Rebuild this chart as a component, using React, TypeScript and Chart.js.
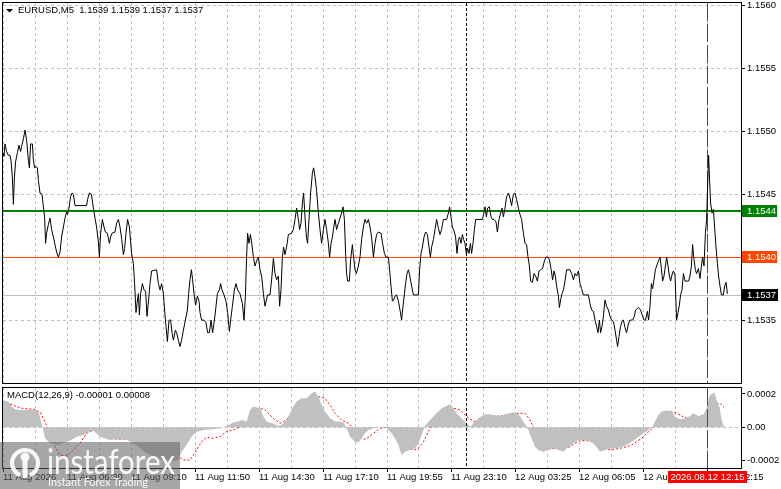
import { useEffect, useRef } from 'react';
import { Chart, registerables } from 'chart.js';

// Register Chart.js components
Chart.register(...registerables);

// EURUSD M5 closes, as [bar index, close]
const priceCloses: [number, number][] = [
  [0, 1.15483], [0.5, 1.1548], [1, 1.1549], [1.8, 1.15484], [2.7, 1.15481], [3.5, 1.15481], [4, 1.15477], [4.7, 1.15463],
  [5.2, 1.15442], [5.7, 1.15463], [6.3, 1.15476], [7.2, 1.15483], [8, 1.15489], [8.8, 1.15484], [9.3, 1.15488], [10.2, 1.15494],
  [11, 1.15501], [11.8, 1.15493], [12.7, 1.15477], [13.2, 1.15471], [13.8, 1.1549], [14.7, 1.1549], [15.2, 1.15477], [15.8, 1.15471],
  [16.5, 1.15472], [17.2, 1.15471], [17.7, 1.15461], [18.5, 1.15451], [19.5, 1.1545], [20.2, 1.1544], [20.8, 1.15432], [21.3, 1.15411],
  [21.8, 1.15419], [22.7, 1.15426], [23.5, 1.15431], [24.3, 1.15422], [25.2, 1.15416], [26, 1.1541], [26.8, 1.15404], [27.7, 1.154],
  [28.5, 1.15404], [29.3, 1.15416], [30.2, 1.15424], [31, 1.15431], [31.8, 1.15436], [32.3, 1.15434], [33, 1.15439], [33.8, 1.15448],
  [34.5, 1.15451], [35.2, 1.1545], [36, 1.15441], [41.8, 1.15441], [42.3, 1.15446], [43.2, 1.15451], [44.2, 1.1545], [45.2, 1.15439],
  [46, 1.15431], [46.8, 1.15424], [47.7, 1.15412], [48.2, 1.154], [48.8, 1.15419], [49.7, 1.1543], [50.5, 1.15424], [51.2, 1.1542],
  [52.2, 1.15419], [53.2, 1.15411], [53.8, 1.15416], [54.5, 1.15419], [56, 1.1542], [56.8, 1.15427], [57.7, 1.1543], [58.5, 1.15424],
  [59.3, 1.15415], [60.2, 1.15402], [60.8, 1.15407], [61.5, 1.15419], [62.3, 1.1543], [63.2, 1.15424], [64.3, 1.15403], [65.2, 1.15395],
  [65.8, 1.15379], [66.5, 1.15356], [67, 1.15363], [67.7, 1.15371], [68.2, 1.15354], [68.8, 1.15371], [69.7, 1.15379], [70.5, 1.15374],
  [71.3, 1.15373], [72, 1.15353], [72.8, 1.15366], [73.5, 1.15379], [74.3, 1.15389], [76.8, 1.1539], [77.7, 1.15379], [78.5, 1.15374],
  [79.3, 1.15379], [80.2, 1.15371], [80.8, 1.15358], [81.5, 1.15345], [82.2, 1.15333], [83, 1.1535], [83.8, 1.1535], [84.5, 1.1534],
  [85.2, 1.15334], [86.2, 1.15342], [86.8, 1.1534], [87.7, 1.15334], [88.5, 1.15329], [89.3, 1.15334], [90.2, 1.15342], [91.2, 1.1535],
  [92.2, 1.15358], [92.8, 1.15371], [93.5, 1.15382], [94.2, 1.1539], [94.8, 1.15382], [95.5, 1.15371], [96.3, 1.15362], [97.2, 1.15369],
  [98, 1.15365], [98.5, 1.15356], [99.3, 1.1535], [100.5, 1.1535], [101.5, 1.15348], [102.3, 1.1534], [103.2, 1.1534], [104, 1.1535],
  [104.8, 1.1534], [105.7, 1.1535], [106.5, 1.15361], [107.2, 1.15371], [108.2, 1.15374], [108.8, 1.15379], [109.5, 1.15374], [110.5, 1.1537],
  [111.5, 1.15365], [112.3, 1.15356], [113.2, 1.15341], [113.8, 1.1535], [114.7, 1.15361], [115.7, 1.15374], [116.5, 1.15379], [117.3, 1.15374],
  [118.5, 1.15371], [119.7, 1.15363], [120.5, 1.1535], [121.2, 1.15369], [121.8, 1.154], [122.3, 1.15419], [123, 1.15411], [123.7, 1.15418],
  [124.3, 1.15412], [125.2, 1.154], [126, 1.15393], [126.8, 1.15397], [127.7, 1.154], [128.5, 1.1539], [129.3, 1.15385], [130.2, 1.15371],
  [131, 1.15361], [131.7, 1.15366], [132.3, 1.1537], [133.5, 1.1537], [134.3, 1.15382], [135.2, 1.15399], [136, 1.15387], [136.8, 1.15382],
  [137.7, 1.15385], [138.3, 1.15361], [139, 1.15374], [139.7, 1.154], [140.3, 1.15408], [141, 1.15402], [141.8, 1.15408], [142.7, 1.15418],
  [144.3, 1.15419], [145.2, 1.15422], [146, 1.1543], [146.8, 1.15439], [147.7, 1.1543], [148.3, 1.15422], [149, 1.15427], [149.7, 1.15443],
  [150.3, 1.15451], [151, 1.15432], [151.7, 1.15416], [152.3, 1.15411], [153, 1.1543], [153.8, 1.15451], [154.7, 1.15467], [155.3, 1.15471],
  [156, 1.15464], [156.8, 1.15453], [157.7, 1.15435], [158.5, 1.15422], [159.3, 1.15411], [160.2, 1.15422], [161, 1.1543], [161.8, 1.15422],
  [162.7, 1.15411], [163.3, 1.154], [164, 1.15411], [164.7, 1.15416], [165.3, 1.15423], [166, 1.1543], [166.8, 1.15422], [167.7, 1.15427],
  [168.5, 1.15431], [169.3, 1.15435], [170, 1.1544], [170.7, 1.1543], [171.3, 1.15403], [171.8, 1.15387], [172.3, 1.15381], [173.2, 1.15381],
  [173.8, 1.15398], [174.7, 1.1541], [175.3, 1.154], [176, 1.1539], [176.7, 1.15387], [177.7, 1.15393], [178.5, 1.154], [179.3, 1.15414],
  [180.2, 1.15424], [181, 1.1543], [181.8, 1.15427], [182.7, 1.1543], [183.5, 1.15424], [184.3, 1.15416], [185.2, 1.154], [186, 1.15411],
  [186.8, 1.15418], [187.7, 1.1542], [189, 1.15419], [189.8, 1.15411], [190.7, 1.15403], [191.5, 1.154], [192.7, 1.154], [193.3, 1.1539],
  [194, 1.15377], [194.7, 1.15365], [195.3, 1.15366], [196, 1.15369], [196.8, 1.1537], [197.7, 1.15365], [198.5, 1.15358], [199.3, 1.1535],
  [200, 1.15361], [200.7, 1.15371], [201.3, 1.15379], [202, 1.15387], [202.7, 1.1539], [203.3, 1.15386], [204.3, 1.15377], [205.2, 1.1537],
  [207.7, 1.1537], [208.3, 1.1539], [209, 1.15403], [209.7, 1.15408], [210.5, 1.15416], [211.3, 1.1542], [212.2, 1.15418], [213, 1.15408],
  [213.7, 1.154], [214.3, 1.15408], [215.2, 1.15414], [216, 1.15422], [216.8, 1.1543], [217.7, 1.15423], [218.5, 1.15418], [219.3, 1.15422],
  [220.2, 1.1543], [221.8, 1.1543], [222.7, 1.15435], [223.3, 1.1544], [224, 1.15432], [224.7, 1.15424], [225.7, 1.1542], [226.3, 1.15416],
  [227, 1.15403], [227.7, 1.15414], [228.3, 1.15416], [229, 1.15411], [229.7, 1.15418], [230.3, 1.15414], [231, 1.15411], [231.7, 1.15402],
  [232.3, 1.15407], [233, 1.15403], [233.7, 1.15411], [234.3, 1.15403], [235, 1.15411], [235.7, 1.15422], [236.3, 1.1543], [239.7, 1.1543],
  [240.3, 1.15434], [241, 1.1544], [241.7, 1.15432], [242.3, 1.15439], [243.2, 1.1544], [244, 1.15432], [244.7, 1.1543], [245.5, 1.1543],
  [246.5, 1.15428], [247.2, 1.1542], [248, 1.1543], [248.8, 1.15435], [249.5, 1.15439], [250.2, 1.15432], [251, 1.15439], [251.8, 1.15448],
  [252.7, 1.15451], [253.5, 1.15447], [254.3, 1.15441], [255.2, 1.1545], [256, 1.15451], [256.8, 1.15446], [257.7, 1.15439], [258.5, 1.15434],
  [259.3, 1.1543], [260.2, 1.15419], [261, 1.15411], [261.8, 1.1541], [262.5, 1.154], [263.2, 1.15393], [263.8, 1.15381], [264.7, 1.1538],
  [265.5, 1.15387], [266.3, 1.15385], [267.2, 1.15381], [268, 1.15389], [268.8, 1.1539], [269.8, 1.15391], [270.7, 1.15397], [271.5, 1.154],
  [272.5, 1.154], [273.2, 1.15398], [274, 1.15391], [274.8, 1.15382], [275.5, 1.15389], [276.2, 1.15385], [276.8, 1.15377], [277.7, 1.15369],
  [278.2, 1.1536], [278.8, 1.15366], [279.5, 1.15371], [280.2, 1.15374], [281, 1.15381], [281.8, 1.1539], [283.5, 1.1539], [284.3, 1.15387],
  [285.2, 1.15382], [286, 1.15387], [286.8, 1.15385], [287.7, 1.15389], [288.5, 1.15379], [289.3, 1.15375], [290.2, 1.1537], [292.7, 1.1537],
  [293.5, 1.15363], [294.3, 1.15358], [295.2, 1.15357], [296, 1.1535], [296.8, 1.15345], [297.5, 1.1534], [298.2, 1.1535], [298.8, 1.1534],
  [299.5, 1.15345], [300.2, 1.15353], [301, 1.15366], [301.8, 1.15361], [302.7, 1.15358], [303.5, 1.15353], [304.3, 1.1535], [305.2, 1.15349],
  [306, 1.15342], [306.8, 1.15334], [307.3, 1.15329], [308, 1.15337], [308.8, 1.15345], [309.5, 1.15349], [310.2, 1.1535], [311, 1.15344],
  [311.8, 1.1534], [312.7, 1.15347], [313.5, 1.1535], [314.8, 1.1535], [315.7, 1.15353], [316.3, 1.15358], [317.7, 1.1536], [318.8, 1.15358],
  [319.8, 1.15353], [320.5, 1.1535], [321.3, 1.1535], [322.2, 1.15357], [322.8, 1.1535], [323.5, 1.15361], [324.2, 1.15379], [324.8, 1.15375],
  [325.5, 1.15382], [326.2, 1.1539], [326.8, 1.15393], [327.7, 1.15397], [328.5, 1.154], [329.2, 1.15391], [329.8, 1.15381], [330.5, 1.15385],
  [331.2, 1.15393], [331.8, 1.154], [332.5, 1.15393], [333.2, 1.15385], [333.8, 1.15381], [334.5, 1.15386], [335.2, 1.15389], [336, 1.15386],
  [336.8, 1.1535], [337.5, 1.15356], [338.2, 1.15362], [338.8, 1.1537], [339.5, 1.15374], [340.2, 1.15387], [341, 1.15381], [342.8, 1.15381],
  [343.5, 1.15385], [344.2, 1.15393], [344.8, 1.1541], [345.5, 1.15398], [346.2, 1.1539], [346.8, 1.15387], [347.7, 1.15391], [348.5, 1.15383],
  [349.2, 1.15393], [349.8, 1.154], [350.5, 1.15393], [351.2, 1.15419], [351.8, 1.1543], [352.3, 1.15456], [352.8, 1.15481], [353.3, 1.15461],
  [353.8, 1.15443], [354.5, 1.15435], [355.2, 1.15438], [355.8, 1.15424], [356.5, 1.15408], [357.2, 1.15395], [357.8, 1.15385], [358.5, 1.15377],
  [359.2, 1.1537], [360.2, 1.1537], [360.8, 1.15377], [361.5, 1.1538], [362.2, 1.15371],
];

// MACD(12,26,9) main (grey histogram), [bar index, value in 0.00001]
const macdMain: [number, number][] = [
  [0, 16], [2.7, 15.4], [4.3, 12.4], [6, 10.8], [8.5, 10.4], [12.7, 10.4], [16.8, 10.4], [17.7, 9.4], [18.8, 4.4], [19.8, 0.4],
  [21, -6.6], [23.5, -9.6], [27.7, -10.6], [31.8, -8.6], [34.3, -7.6], [36.8, -5.6], [40.2, -4.6], [42.7, -2.6], [45.2, -2], [48.5, -5.6],
  [53.5, -7.6], [56.8, -7.2], [61.8, -7.6], [65.2, -9.6], [68.5, -12.6], [71.8, -15.6], [75.2, -17.6], [78.5, -19.2], [81.8, -19.6], [85.2, -20.2],
  [87.7, -19.6], [89.3, -14.6], [91.8, -10.6], [94.3, -5.6], [96.8, -2.6], [100.2, -1.6], [105.2, -1.2], [108.5, -0.6], [111, 0.4], [115.2, 2.8],
  [117.7, 3.4], [119.3, 4.4], [121.8, 3.4], [123.5, 10.4], [125.2, 12.4], [128.5, 11.4], [130.2, 6.4], [131.8, 3.4], [134.3, 2.4], [136.8, 1.4],
  [138.5, 0.8], [140.2, 2.4], [141.8, 4.4], [143.5, 8.4], [145.2, 12.4], [146.8, 15.4], [149.3, 17.4], [151.8, 17.4], [154.3, 20.4], [156, 21.4],
  [157.7, 18.4], [159.3, 13.4], [161, 9.4], [163.5, 5.4], [166, 3.4], [168.5, 3.4], [170.2, 2.8], [171.5, 0.4], [172.2, -1.6], [173.5, -5.6],
  [176, -8.6], [177.7, -9.2], [179.3, -6.6], [181, -3.6], [182.7, -1.6], [185.2, -0.6], [188.5, 0], [191.8, -0.6], [194.3, -3.6], [196, -6.6],
  [197.7, -10.6], [199.3, -16.6], [201, -14.6], [203.5, -13.6], [206, -12.6], [207.7, -9.6], [209.3, -4.6], [211, 0.8], [214.3, 5.4], [216.8, 8.4],
  [219.3, 11.4], [221.8, 12.8], [223.5, 14], [225.2, 11.4], [226.8, 8.4], [229.3, 5.4], [231.8, 2.4], [233.8, 0.4], [235.2, 2.4], [237.7, 5.4],
  [240.2, 7.4], [242.7, 8], [245.2, 7.4], [247.7, 6.8], [250.2, 7.4], [252.7, 8.4], [255.2, 9], [258.5, 6.8], [260.2, 3.4], [261.8, 0.4],
  [262.7, -1.6], [264.3, -6.6], [266, -11.6], [267.7, -13.6], [270.2, -14.6], [272.7, -13.6], [275.2, -12.6], [277.7, -13.6], [280.2, -14.6], [282.7, -11.6],
  [285.2, -9.6], [287.7, -7.6], [290.2, -7.6], [293.5, -8.2], [296, -10.6], [298.5, -14.6], [301, -13.6], [303.5, -12.6], [306.8, -12.6], [309.3, -11.6],
  [311.8, -10.6], [314.3, -8.6], [316.8, -6.6], [320.2, -3.6], [322.7, -1.6], [324.8, 0.4], [326, 3.4], [327.7, 7.4], [329.3, 9.4], [331.8, 10],
  [334.3, 9.4], [336, 6.4], [338.5, 4.8], [341, 5.4], [343.5, 6.8], [345.2, 8.4], [347.7, 6.8], [350.2, 7.4], [351.8, 11.4], [353.2, 18.4],
  [354.3, 20], [355.7, 20.8], [356.8, 16.4], [358.2, 12.4], [359.3, 4.4], [360.5, 0.4], [361.8, -1.2],
];

// MACD signal line (red dotted), [bar index, value in 0.00001]
const macdSignal: [number, number][] = [
  [0.2, 11.4], [3.5, 14], [6.8, 12.4], [10.2, 11.2], [15.2, 10.8], [18.5, 9.2], [21, 3.4], [23.5, -4.6], [26, -11.6], [28.5, -16.6],
  [31.8, -17.2], [34.3, -14.6], [38.5, -9.6], [41.8, -3.6], [46, -1.2], [50.2, -3.6], [53.5, -6.6], [58.5, -7.2], [65.2, -6.6], [68.5, -9.6],
  [71.8, -14.6], [75.2, -17.2], [80.2, -14.2], [83.5, -13.6], [86.8, -16.6], [90.2, -19.6], [93.5, -19.6], [96.8, -13.6], [99.3, -8.6], [101.8, -6],
  [105.2, -6.6], [108.5, -5.6], [111.8, -2.6], [115.2, -1.6], [118.5, 0.4], [121.8, 2], [125.2, 6.4], [128.5, 11.4], [131, 10.4], [133.5, 7.4],
  [136, 4.4], [138.5, 2.4], [141, 4], [144.3, 7.4], [147.7, 11.4], [151, 14.4], [154.3, 17.4], [157.7, 18.4], [161, 17.4], [163.5, 13.4],
  [166, 8.4], [169.3, 4.4], [172.7, 2.4], [176, -1.6], [178.5, -5.6], [180.5, -7.2], [182.7, -6], [185.2, -3.6], [188.5, -0.6], [191.8, 0],
  [195.2, -1.6], [197.7, -4.6], [200.2, -8.6], [202.7, -12.6], [205.2, -13.6], [207.7, -12.6], [210.2, -8.6], [212.7, -2.6], [215.2, 2.4], [218.5, 7.4],
  [221.8, 10.4], [225.2, 11.4], [228.5, 10.4], [231, 7.4], [233.5, 4.8], [236, 3.4], [238.5, 4.4], [241.8, 5.4], [245.2, 6.4], [248.5, 6.8],
  [251.8, 7.4], [255.2, 8], [258.5, 8.4], [261, 8.4], [263.5, 4.4], [266, -1.6], [268.5, -8.6], [271, -12.2], [273.5, -13], [276.8, -12.6],
  [280.2, -12.6], [283.5, -11.6], [286, -9.6], [288.5, -8], [291.8, -8], [294.3, -8.6], [296.8, -10.6], [299.3, -12.6], [301.8, -13.2], [305.2, -13.2],
  [308.5, -12.6], [311.8, -11.6], [314.3, -10.6], [316.8, -8.6], [319.3, -6.6], [321.8, -3.6], [324.3, -1.2], [326.8, 2.4], [329.3, 6.4], [331.8, 8.8],
  [334.3, 9.4], [336.8, 8.4], [339.3, 6.8], [341.8, 5.4], [345.2, 5.8], [348.5, 6.4], [351.8, 8.8], [354.3, 11.4], [356.8, 14], [358.5, 14.4],
  [360.5, 12],
];

// time axis: grid every 16 bars, labels every 32
const gridBars = [0, 16, 32, 48, 64, 80, 96, 112, 128, 144, 160, 176, 192, 208, 224, 240, 256, 272, 288, 304, 320, 336, 352];
const labelBars = [0, 32, 64, 96, 128, 160, 192, 224, 256, 288, 320, 352];
const timeLabels = [
  '11 Aug 2026', '11 Aug 06:30', '11 Aug 09:10', '11 Aug 11:50', '11 Aug 14:30', '11 Aug 17:10',
  '11 Aug 19:55', '11 Aug 23:10', '12 Aug 03:25', '12 Aug 06:05', '12 Aug 08:45', '12 Aug 12:15',
];
const priceTicks = [1.1535, 1.154, 1.1545, 1.155, 1.1555, 1.156];
const macdTicks = [-0.0002, 0, 0.0002];

// horizontal levels and vertical markers
const resistanceLevel = 1.15437;
const supportLevel = 1.154;
const bidLevel = 1.1537;
const sessionBar = 231.5;
const cursorBar = 352;
const cursorTime = '2026.08.12 12:15';
const symbolTitle = 'EURUSD,M5  1.1539 1.1539 1.1537 1.1537';
const macdTitle = 'MACD(12,26,9) -0.00001 0.00008';

const FONT = '"Liberation Sans", Arial, sans-serif';
const FONT_SIZE = 9.5;
const GRID = '#C0C0C0';

const drawFrame = (chart: Chart) => {
  const { ctx, chartArea: a } = chart;
  const x0 = Math.round(a.left) - 0.5;
  const y0 = Math.round(a.top) - 0.5;
  const x1 = Math.round(a.right) + 0.5;
  const y1 = Math.round(a.bottom) + 0.5;
  ctx.save();
  ctx.strokeStyle = '#000';
  ctx.lineWidth = 1;
  ctx.strokeRect(x0, y0, x1 - x0, y1 - y0);
  ctx.restore();
};

const vLine = (ctx: CanvasRenderingContext2D, x: number, top: number, bottom: number, color: string, dash: number[]) => {
  ctx.save();
  ctx.strokeStyle = color;
  ctx.lineWidth = 1;
  ctx.setLineDash(dash);
  ctx.beginPath();
  ctx.moveTo(Math.round(x) + 0.5, top);
  ctx.lineTo(Math.round(x) + 0.5, bottom);
  ctx.stroke();
  ctx.restore();
};

const hLine = (ctx: CanvasRenderingContext2D, y: number, left: number, right: number, color: string, width: number) => {
  const yy = width % 2 ? Math.round(y) + 0.5 : Math.round(y);
  ctx.save();
  ctx.strokeStyle = color;
  ctx.lineWidth = width;
  ctx.beginPath();
  ctx.moveTo(left, yy);
  ctx.lineTo(right, yy);
  ctx.stroke();
  ctx.restore();
};

const tag = (ctx: CanvasRenderingContext2D, x: number, y: number, w: number, bg: string, text: string, align: CanvasTextAlign) => {
  const top = Math.round(y) - 6;
  ctx.save();
  ctx.fillStyle = bg;
  ctx.fillRect(x, top, w, 12);
  ctx.fillStyle = '#fff';
  ctx.font = `${FONT_SIZE}px ${FONT}`;
  ctx.textBaseline = 'middle';
  ctx.textAlign = align;
  ctx.fillText(text, align === 'center' ? x + w / 2 : x + 5, top + 6.5);
  ctx.restore();
};

const mainDecor = {
  id: 'mainDecor',
  beforeDatasetsDraw(chart: Chart) {
    const { ctx, chartArea: a, scales } = chart;
    const x = scales.x;
    const y = scales.y;
    hLine(ctx, y.getPixelForValue(bidLevel), a.left, a.right, GRID, 1);
    hLine(ctx, y.getPixelForValue(supportLevel), a.left, a.right, '#FF4500', 1);
    hLine(ctx, y.getPixelForValue(resistanceLevel), a.left, a.right, '#008000', 2);
    vLine(ctx, x.getPixelForValue(sessionBar), a.top, a.bottom, '#000', [3, 2]);
    vLine(ctx, x.getPixelForValue(cursorBar), a.top, a.bottom, '#FF0000', [18, 3]);
  },
  afterDraw(chart: Chart) {
    const { ctx, chartArea: a, scales } = chart;
    const y = scales.y;
    drawFrame(chart);
    ctx.save();
    ctx.fillStyle = '#000';
    ctx.beginPath();
    ctx.moveTo(6, 9);
    ctx.lineTo(13, 9);
    ctx.lineTo(9.5, 12.5);
    ctx.closePath();
    ctx.fill();
    ctx.font = `${FONT_SIZE}px ${FONT}`;
    ctx.textBaseline = 'middle';
    ctx.fillText(symbolTitle, 18, 10.5);
    ctx.restore();
    const x0 = Math.round(a.right) + 1;
    tag(ctx, x0, y.getPixelForValue(resistanceLevel), 35, '#008000', resistanceLevel.toFixed(4), 'left');
    tag(ctx, x0, y.getPixelForValue(supportLevel), 35, '#FF4500', supportLevel.toFixed(4), 'left');
    tag(ctx, x0, y.getPixelForValue(bidLevel), 36, '#000', bidLevel.toFixed(4), 'left');
  },
};

const macdDecor = {
  id: 'macdDecor',
  afterDatasetsDraw(chart: Chart) {
    const { ctx, chartArea: a, scales } = chart;
    const x = scales.x;
    vLine(ctx, x.getPixelForValue(sessionBar), a.top, a.bottom, '#000', [3, 2]);
    vLine(ctx, x.getPixelForValue(cursorBar), a.top, a.bottom + 3, '#FF0000', [18, 3]);
  },
  afterDraw(chart: Chart) {
    const { ctx, scales } = chart;
    drawFrame(chart);
    ctx.save();
    ctx.fillStyle = '#000';
    ctx.font = `${FONT_SIZE}px ${FONT}`;
    ctx.textBaseline = 'middle';
    ctx.fillText(macdTitle, 7, 9.5);
    ctx.restore();

    const cx = scales.x.getPixelForValue(cursorBar);
    tag(ctx, Math.round(cx) - 39, 91, 79, '#FF0000', cursorTime, 'center');

    // instaforex watermark
    ctx.save();
    ctx.fillStyle = 'rgba(95,95,95,0.55)';
    ctx.fillRect(0, 56, 180, 47);
    ctx.fillStyle = 'rgba(255,255,255,0.92)';
    ctx.strokeStyle = 'rgba(255,255,255,0.92)';
    ctx.lineWidth = 4;
    ctx.beginPath();
    ctx.arc(25, 77, 13, 0.62 * Math.PI, 2.38 * Math.PI);
    ctx.stroke();
    ctx.beginPath();
    ctx.arc(25, 71, 4.5, 0, Math.PI * 2);
    ctx.fill();
    ctx.fillRect(22.5, 75, 5, 17);
    ctx.font = '34px Lato, "Open Sans", sans-serif';
    ctx.textBaseline = 'alphabetic';
    ctx.fillText('instaforex', 47, 88, 128);
    ctx.font = '12px Lato, "Open Sans", sans-serif';
    ctx.fillText('Instant Forex Trading', 48, 100, 100);
    ctx.restore();
  },
};

const tickFont = { family: FONT, size: FONT_SIZE };

const App = () => {
  const mainRef = useRef<HTMLCanvasElement>(null);
  const macdRef = useRef<HTMLCanvasElement>(null);

  useEffect(() => {
    document.body.style.margin = '0';
    if (!mainRef.current || !macdRef.current) return;

    const mainChart = new Chart(mainRef.current, {
      type: 'line',
      data: {
        datasets: [
          {
            data: priceCloses.map(([bar, close]) => ({ x: bar, y: close })),
            borderColor: '#000',
            borderWidth: 1,
            pointRadius: 0,
            tension: 0,
          },
        ],
      },
      options: {
        animation: false,
        responsive: false,
        layout: { padding: { left: 3, top: 3, right: 0, bottom: 3 } },
        plugins: { legend: { display: false }, tooltip: { enabled: false } },
        scales: {
          x: {
            type: 'linear',
            min: 0,
            max: 369,
            afterBuildTicks: (s: any) => {
              s.ticks = gridBars.map((value) => ({ value }));
            },
            afterFit: (s: any) => {
              s.height = 0;
              s.paddingLeft = 0;
              s.paddingRight = 0;
            },
            ticks: { display: false },
            grid: { color: GRID, drawTicks: false },
            border: { display: false, dash: [3, 3] },
          },
          y: {
            position: 'right',
            min: 1.153,
            max: 1.15602,
            afterBuildTicks: (s: any) => {
              s.ticks = priceTicks.map((value) => ({ value }));
            },
            afterFit: (s: any) => {
              s.width = 40;
              s.paddingTop = 0;
              s.paddingBottom = 0;
            },
            ticks: {
              color: '#000',
              font: tickFont,
              padding: 2,
              callback: (v: any) => Number(v).toFixed(4),
            },
            grid: { color: GRID, tickLength: 4, tickColor: '#000', tickBorderDash: [] },
            border: { display: false, dash: [3, 3] },
          },
        },
      },
      plugins: [mainDecor],
    });

    const macdChart = new Chart(macdRef.current, {
      type: 'line',
      data: {
        datasets: [
          {
            data: macdMain.map(([bar, v]) => ({ x: bar, y: v / 1e5 })),
            fill: 'origin',
            backgroundColor: GRID,
            borderColor: 'rgba(0,0,0,0)',
            borderWidth: 0,
            pointRadius: 0,
            tension: 0,
          },
          {
            data: macdSignal.map(([bar, v]) => ({ x: bar, y: v / 1e5 })),
            fill: false,
            borderColor: '#FF0000',
            borderWidth: 1,
            borderDash: [2, 2],
            pointRadius: 0,
            tension: 0,
          },
        ],
      },
      options: {
        animation: false,
        responsive: false,
        layout: { padding: { left: 3, top: 2, right: 0, bottom: 0 } },
        plugins: { legend: { display: false }, tooltip: { enabled: false } },
        scales: {
          x: {
            type: 'linear',
            min: 0,
            max: 369,
            afterBuildTicks: (s: any) => {
              s.ticks = gridBars.map((value) => ({ value }));
            },
            afterFit: (s: any) => {
              s.height = 21;
              s.paddingLeft = 0;
              s.paddingRight = 0;
            },
            ticks: {
              autoSkip: false,
              maxRotation: 0,
              minRotation: 0,
              align: 'start',
              padding: 0,
              color: '#000',
              font: tickFont,
              callback: (v: any) => {
                const i = labelBars.indexOf(Number(v));
                return i >= 0 ? timeLabels[i] : '';
              },
            },
            grid: {
              color: GRID,
              tickLength: 4,
              tickBorderDash: [],
              tickColor: (c: any) => (c.tick && labelBars.includes(c.tick.value) ? '#000' : 'rgba(0,0,0,0)'),
            },
            border: { display: false, dash: [3, 3] },
          },
          y: {
            position: 'right',
            min: -0.0002437,
            max: 0.0002353,
            afterBuildTicks: (s: any) => {
              s.ticks = macdTicks.map((value) => ({ value }));
            },
            afterFit: (s: any) => {
              s.width = 40;
              s.paddingTop = 0;
              s.paddingBottom = 0;
            },
            ticks: {
              color: '#000',
              font: tickFont,
              padding: 2,
              callback: (v: any) => (Number(v) === 0 ? '0.00' : Number(v).toFixed(4)),
            },
            grid: {
              color: (c: any) => (c.tick && c.tick.value === 0 ? GRID : 'rgba(0,0,0,0)'),
              tickLength: 4,
              tickColor: '#000',
              tickBorderDash: [],
            },
            border: { display: false, dash: [3, 3] },
          },
        },
      },
      plugins: [macdDecor],
    });

    return () => {
      mainChart.destroy();
      macdChart.destroy();
    };
  }, []);

  return (
    <div style={{ position: 'relative', width: 781, height: 489, background: '#fff', overflow: 'hidden' }}>
      <canvas ref={mainRef} width={781} height={386} style={{ position: 'absolute', left: 0, top: 0 }} />
      <canvas ref={macdRef} width={781} height={103} style={{ position: 'absolute', left: 0, top: 386 }} />
    </div>
  );
};

export default App;
